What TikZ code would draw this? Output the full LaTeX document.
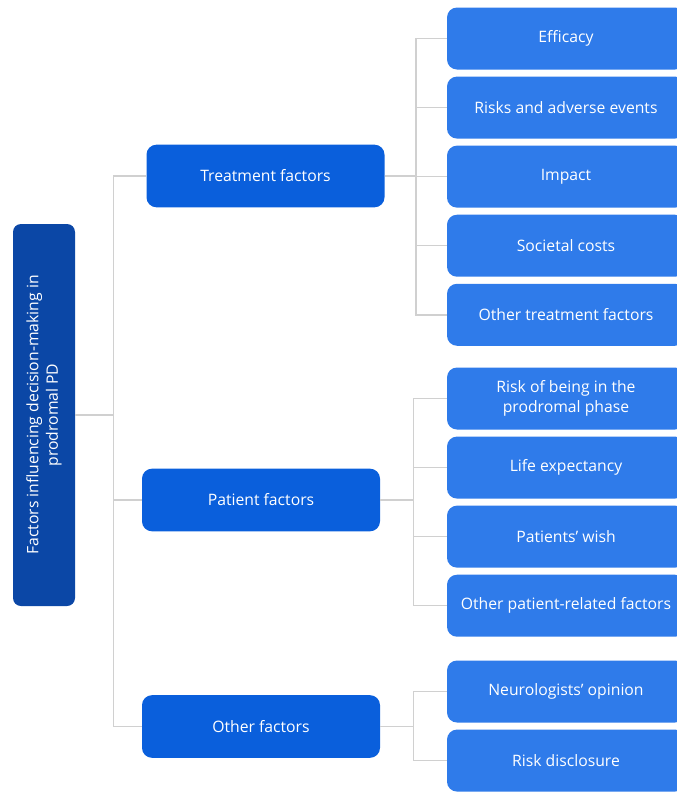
\documentclass[tikz,border=0pt]{standalone}
\usepackage{fontspec}
\setmainfont{Open Sans}
\usepackage{xcolor}
\usetikzlibrary{positioning}
\definecolor{rootblue}{HTML}{0B47A6}
\definecolor{groupblue}{HTML}{0A5FDC}
\definecolor{leafblue}{HTML}{2F7BEA}
\definecolor{linkgray}{HTML}{D0D0D0}
\tikzstyle{root} = [rectangle, rounded corners=6pt, fill=rootblue, text=white, minimum width=286.5pt, minimum height=46.5pt, align=center, rotate=90, font=\fontsize{11.8}{14.5}\selectfont]
\tikzstyle{group} = [rectangle, rounded corners=7.5pt, fill=groupblue, text=white, minimum width=178.5pt, minimum height=47pt, align=center, font=\fontsize{11.8}{14.5}\selectfont]
\tikzstyle{leaf} = [rectangle, rounded corners=7.5pt, fill=leafblue, text=white, minimum width=178.5pt, minimum height=46.5pt, align=center, font=\fontsize{11.8}{14.5}\selectfont]
\tikzstyle{link} = [draw=linkgray, line width=1.1pt]

\begin{document}
\begin{tikzpicture}[x=0.75pt, y=-0.75pt, node distance=4.9pt]
        \clip (0,0) rectangle (677,793);
        % Nodes
        \node (root) [root] at (44,415) {Factors influencing decision-making in\\prodromal PD};

        \node (trt) [group] at (265.5,176) {Treatment factors};
        \node (pat) [group] at (261,500) {Patient factors};
        \node (oth) [group] at (261,726.5) {Other factors};

        % Treatment branch
        \node (eff) [leaf] at (566,38.5) {Efficacy};
        \node (ris) [leaf, below=of eff] {Risks and adverse events};
        \node (imp) [leaf, below=of ris] {Impact};
        \node (soc) [leaf, below=of imp] {Societal costs};
        \node (otr) [leaf, below=of soc] {Other treatment factors};

        % Patient branch
        \node (pro) [leaf] at (566,398.5) {Risk of being in the\\prodromal phase};
        \node (life) [leaf, below=of pro] {Life expectancy};
        \node (wish) [leaf, below=of life] {Patients’ wish};
        \node (opat) [leaf, below=of wish] {Other patient-related factors};

        % Other branch
        \node (neu) [leaf] at (566,691.5) {Neurologists’ opinion};
        \node (dis) [leaf, below=of neu] {Risk disclosure};

        % Connectors
        \draw [link] (root.south) -- ++(38,0) |- (trt.west);
        \draw [link] (root.south) -- ++(38,0) |- (pat.west);
        \draw [link] (root.south) -- ++(38,0) |- (oth.west);

        \draw [link] (trt.east) -- ++(31,0) |- (eff.west);
        \draw [link] (trt.east) -- ++(31,0) |- (ris.west);
        \draw [link] (trt.east) -- ++(31,0) |- (imp.west);
        \draw [link] (trt.east) -- ++(31,0) |- (soc.west);
        \draw [link] (trt.east) -- ++(31,0) |- (otr.west);

        \draw [link] (pat.east) -- ++(33,0) |- (pro.west);
        \draw [link] (pat.east) -- ++(33,0) |- (life.west);
        \draw [link] (pat.east) -- ++(33,0) |- (wish.west);
        \draw [link] (pat.east) -- ++(33,0) |- (opat.west);

        \draw [link] (oth.east) -- ++(33,0) |- (neu.west);
        \draw [link] (oth.east) -- ++(33,0) |- (dis.west);
    \end{tikzpicture}
\end{document}
